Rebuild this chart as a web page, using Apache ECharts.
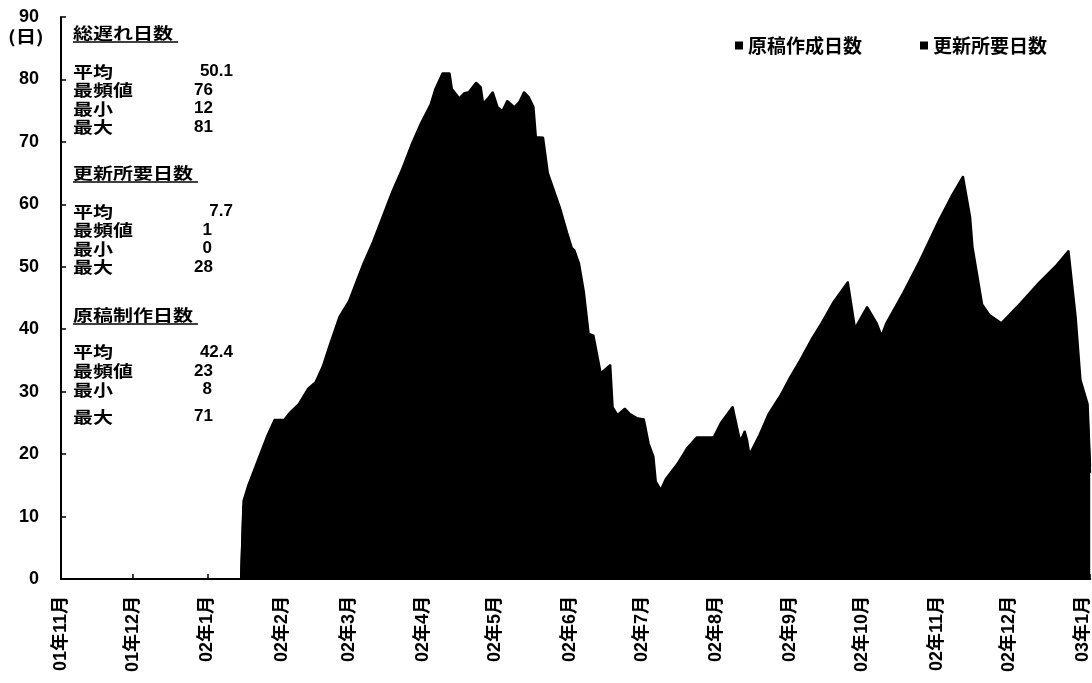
<!DOCTYPE html>
<html>
<head>
<meta charset="utf-8">
<script src="https://cdn.jsdelivr.net/npm/echarts@6/dist/echarts.min.js"></script>
<style>
  html, body { margin: 0; padding: 0; background: #fff; }
  #chart { width: 1092px; height: 683px; }
</style>
</head>
<body>
<div id="chart"></div>
<script>
// Observation dates (daily series, only the turning points are listed)
const dates = [
  '2002-01-15','2002-01-16','2002-01-18','2002-01-20','2002-01-23','2002-01-26','2002-01-29','2002-02-02',
  '2002-02-04','2002-02-08','2002-02-12','2002-02-15','2002-02-18','2002-02-21','2002-02-25','2002-03-01',
  '2002-03-04','2002-03-07','2002-03-11','2002-03-15','2002-03-19','2002-03-23','2002-03-27','2002-03-31',
  '2002-04-04','2002-04-06','2002-04-09','2002-04-12','2002-04-13','2002-04-16','2002-04-18','2002-04-20',
  '2002-04-23','2002-04-25','2002-04-26','2002-04-28','2002-04-30','2002-05-02','2002-05-04','2002-05-06',
  '2002-05-09','2002-05-11','2002-05-13','2002-05-15','2002-05-17','2002-05-18','2002-05-21','2002-05-23',
  '2002-05-28','2002-05-31','2002-06-02','2002-06-03','2002-06-05','2002-06-07','2002-06-09','2002-06-11',
  '2002-06-14','2002-06-18','2002-06-19','2002-06-21','2002-06-24','2002-06-26','2002-06-29','2002-07-02',
  '2002-07-04','2002-07-06','2002-07-07','2002-07-09','2002-07-11','2002-07-16','2002-07-20','2002-07-24',
  '2002-07-31','2002-08-03','2002-08-08','2002-08-11','2002-08-12','2002-08-13','2002-08-14','2002-08-15',
  '2002-08-19','2002-08-23','2002-08-28','2002-09-01','2002-09-05','2002-09-10','2002-09-14','2002-09-19',
  '2002-09-25','2002-09-28','2002-10-03','2002-10-07','2002-10-09','2002-10-11','2002-10-18','2002-10-25',
  '2002-11-02','2002-11-07','2002-11-12','2002-11-15','2002-11-16','2002-11-20','2002-11-23','2002-11-28',
  '2002-12-06','2002-12-14','2002-12-21','2002-12-26','2002-12-29','2002-12-31','2003-01-03','2003-01-04'
];

// 原稿作成日数 (days spent preparing the manuscript)
const draftDays = [
  0, 11.5, 14, 15, 19, 21, 24.5, 24.5,
  23.5, 26, 26.5, 28.5, 29, 33.5, 36, 39.5,
  40.5, 44.5, 46, 51, 53, 57.5, 59.5, 64,
  65, 68.5, 69, 71, 69.5, 69, 67.8, 66,
  65.5, 63.8, 63.2, 61, 60, 58.6, 56, 55.6,
  53.6, 52.4, 52, 49.2, 48.6, 45.8, 44.7, 43,
  41.5, 40.5, 39, 37.7, 37.5, 36, 33.3, 32,
  29, 28.3, 25.5, 25.3, 24.3, 24.5, 23.8, 22.6,
  20.7, 17.6, 14.6, 14.3, 15, 17.5, 19, 21.7,
  21.7, 22, 23.6, 21.3, 21.8, 21.7, 21.3, 19,
  21, 23.5, 25.5, 27.4, 31, 32.5, 34, 36.4,
  38.6, 35.2, 36.6, 35, 34, 35, 37.8, 42,
  46.5, 49.2, 51.5, 48, 45.2, 39, 38.3, 38,
  40.2, 41.6, 43.3, 44.6, 37, 28.9, 26, 17
];

// 更新所要日数 (days needed for the update)
const updateDays = [
  0, 1, 1, 2, 1, 2, 1, 1,
  3, 2, 4, 3, 5, 4, 6, 5,
  7, 6, 8, 7, 9, 8, 10, 9,
  11, 10, 12, 10, 9, 8, 10, 12,
  14, 15, 13, 16, 18, 17, 19, 21,
  22, 24, 26, 28, 27, 25, 26, 22,
  18, 15, 14, 15, 13, 10, 6, 7,
  4, 6, 2, 1, 3, 2, 2, 3,
  1, 2, 1, 0, 1, 1, 2, 1,
  1, 3, 4, 1, 1, 2, 1, 1,
  2, 3, 4, 5, 4, 6, 7, 8,
  9, 5, 7, 6, 5, 6, 8, 9,
  11, 12, 13, 10, 8, 5, 4, 3,
  4, 6, 7, 8, 5, 3, 2, 1
];

// Month ticks on the date axis and their labels
const monthStarts = [
  '2001-11-01','2001-12-01','2002-01-01','2002-02-01','2002-03-01','2002-04-01','2002-05-01','2002-06-01',
  '2002-07-01','2002-08-01','2002-09-01','2002-10-01','2002-11-01','2002-12-01','2003-01-01'
];
const monthLabels = [
  '01年11月','01年12月','02年1月','02年2月','02年3月','02年4月','02年5月','02年6月',
  '02年7月','02年8月','02年9月','02年10月','02年11月','02年12月','03年1月'
];

// Summary statistics shown in the panel on the left
const statTitles = ['総遅れ日数', '更新所要日数', '原稿制作日数'];
const statNames = ['平均', '最頻値', '最小', '最大'];
const statValues = [
  ['50.1', '76', '12', '81'],
  ['7.7', '1', '0', '28'],
  ['42.4', '23', '8', '71']
];

const seriesNames = ['原稿作成日数', '更新所要日数'];

function toTime(s) {
  const p = s.split('-').map(Number);
  return new Date(p[0], p[1] - 1, p[2]).getTime();
}

const DAY = 86400000;
const monthTimes = monthStarts.map(toTime);
const cjkFont = "'Noto Sans CJK JP', sans-serif";
const numFont = "'Liberation Sans', 'Noto Sans CJK JP', sans-serif";

// Left-hand statistics panel, drawn as text graphics
const titleY = [33, 173, 315];
const rowY = [
  [71.5, 90, 108.5, 127],
  [211.5, 230, 248.5, 267],
  [352, 371, 389.5, 416.5]
];
const panelX = 73;
const cjkScale = 1.25;
const cjkSize = 16;
const graphics = [];
statTitles.forEach((title, b) => {
  graphics.push({
    type: 'text', x: panelX, y: titleY[b], scaleX: cjkScale, silent: true,
    style: { text: title, x: 0, y: 0, font: 'bold ' + cjkSize + 'px ' + cjkFont,
             fill: '#000', verticalAlign: 'middle', align: 'left' }
  });
  const lineLen = title.length * cjkSize * cjkScale + 5;
  graphics.push({
    type: 'line', silent: true,
    shape: { x1: panelX, y1: titleY[b] + 9, x2: panelX + lineLen, y2: titleY[b] + 9 },
    style: { stroke: '#000', lineWidth: 1.5 }
  });
  statNames.forEach((name, r) => {
    graphics.push({
      type: 'text', x: panelX, y: rowY[b][r], scaleX: cjkScale, silent: true,
      style: { text: name, x: 0, y: 0, font: 'bold ' + cjkSize + 'px ' + cjkFont,
               fill: '#000', verticalAlign: 'middle', align: 'left' }
    });
    const v = statValues[b][r];
    const rightX = v.indexOf('.') >= 0 ? 233 : (v.length === 1 ? 212 : 213);
    graphics.push({
      type: 'text', x: rightX, y: rowY[b][r], silent: true,
      style: { text: v, x: 0, y: 0, font: 'bold 17px ' + numFont,
               fill: '#000', verticalAlign: 'middle', align: 'right' }
    });
  });
});

// Unit label above the value axis
graphics.push({
  type: 'text', x: 8, y: 37, scaleX: 1.2, silent: true,
  style: { text: '(日)', x: 0, y: 0, font: 'bold 17px ' + cjkFont,
           fill: '#000', verticalAlign: 'middle', align: 'left' }
});

const chart = echarts.init(document.getElementById('chart'), null, { renderer: 'canvas' });

// Both layers are solid black; the lower one sits above so its edge hides the seam
const makeSeries = (name, values, z) => ({
  name: name,
  type: 'line',
  stack: 'total',
  symbol: 'none',
  color: '#000',
  z: z,
  lineStyle: { color: '#000', width: 2 },
  areaStyle: { color: '#000', opacity: 1 },
  data: dates.map((d, i) => [toTime(d), values[i]])
});

chart.setOption({
  animation: false,
  backgroundColor: '#fff',
  grid: { left: 61, right: 1, top: 17, bottom: 104, containLabel: false },
  legend: {
    data: seriesNames.map(n => ({ name: n, icon: 'rect' })),
    left: 730, top: 31,
    itemWidth: 8, itemHeight: 8, itemGap: 58,
    textStyle: { fontFamily: cjkFont, fontWeight: 'bold', fontSize: 19, color: '#000' },
    selectedMode: false
  },
  xAxis: {
    type: 'time',
    min: toTime('2001-11-01'),
    max: toTime('2003-01-04'),
    splitNumber: 14,
    minInterval: 28 * DAY,
    maxInterval: 31 * DAY,
    axisLine: { show: true, onZero: false, lineStyle: { color: '#000', width: 2 } },
    axisTick: { show: true, inside: true, length: 5, lineStyle: { color: '#000', width: 1.5 } },
    axisLabel: {
      rotate: 90,
      margin: 17,
      hideOverlap: false,
      showMaxLabel: true,
      fontFamily: numFont,
      fontWeight: 'bold',
      fontSize: 18,
      color: '#000',
      formatter: function (v) {
        let best = 0;
        for (let i = 1; i < monthTimes.length; i++) {
          if (Math.abs(monthTimes[i] - v) < Math.abs(monthTimes[best] - v)) best = i;
        }
        return Math.abs(monthTimes[best] - v) < DAY ? monthLabels[best] : '';
      }
    },
    splitLine: { show: false }
  },
  yAxis: {
    type: 'value',
    min: 0, max: 90, interval: 10,
    axisLine: { show: true, lineStyle: { color: '#000', width: 2 } },
    axisTick: { show: true, inside: true, length: 5, lineStyle: { color: '#000', width: 1.5 } },
    axisLabel: { margin: 22, fontFamily: numFont, fontWeight: 'bold', fontSize: 18, color: '#000' },
    splitLine: { show: false }
  },
  graphic: graphics,
  series: [
    makeSeries(seriesNames[0], draftDays, 3),
    makeSeries(seriesNames[1], updateDays, 2)
  ]
});
</script>
</body>
</html>
